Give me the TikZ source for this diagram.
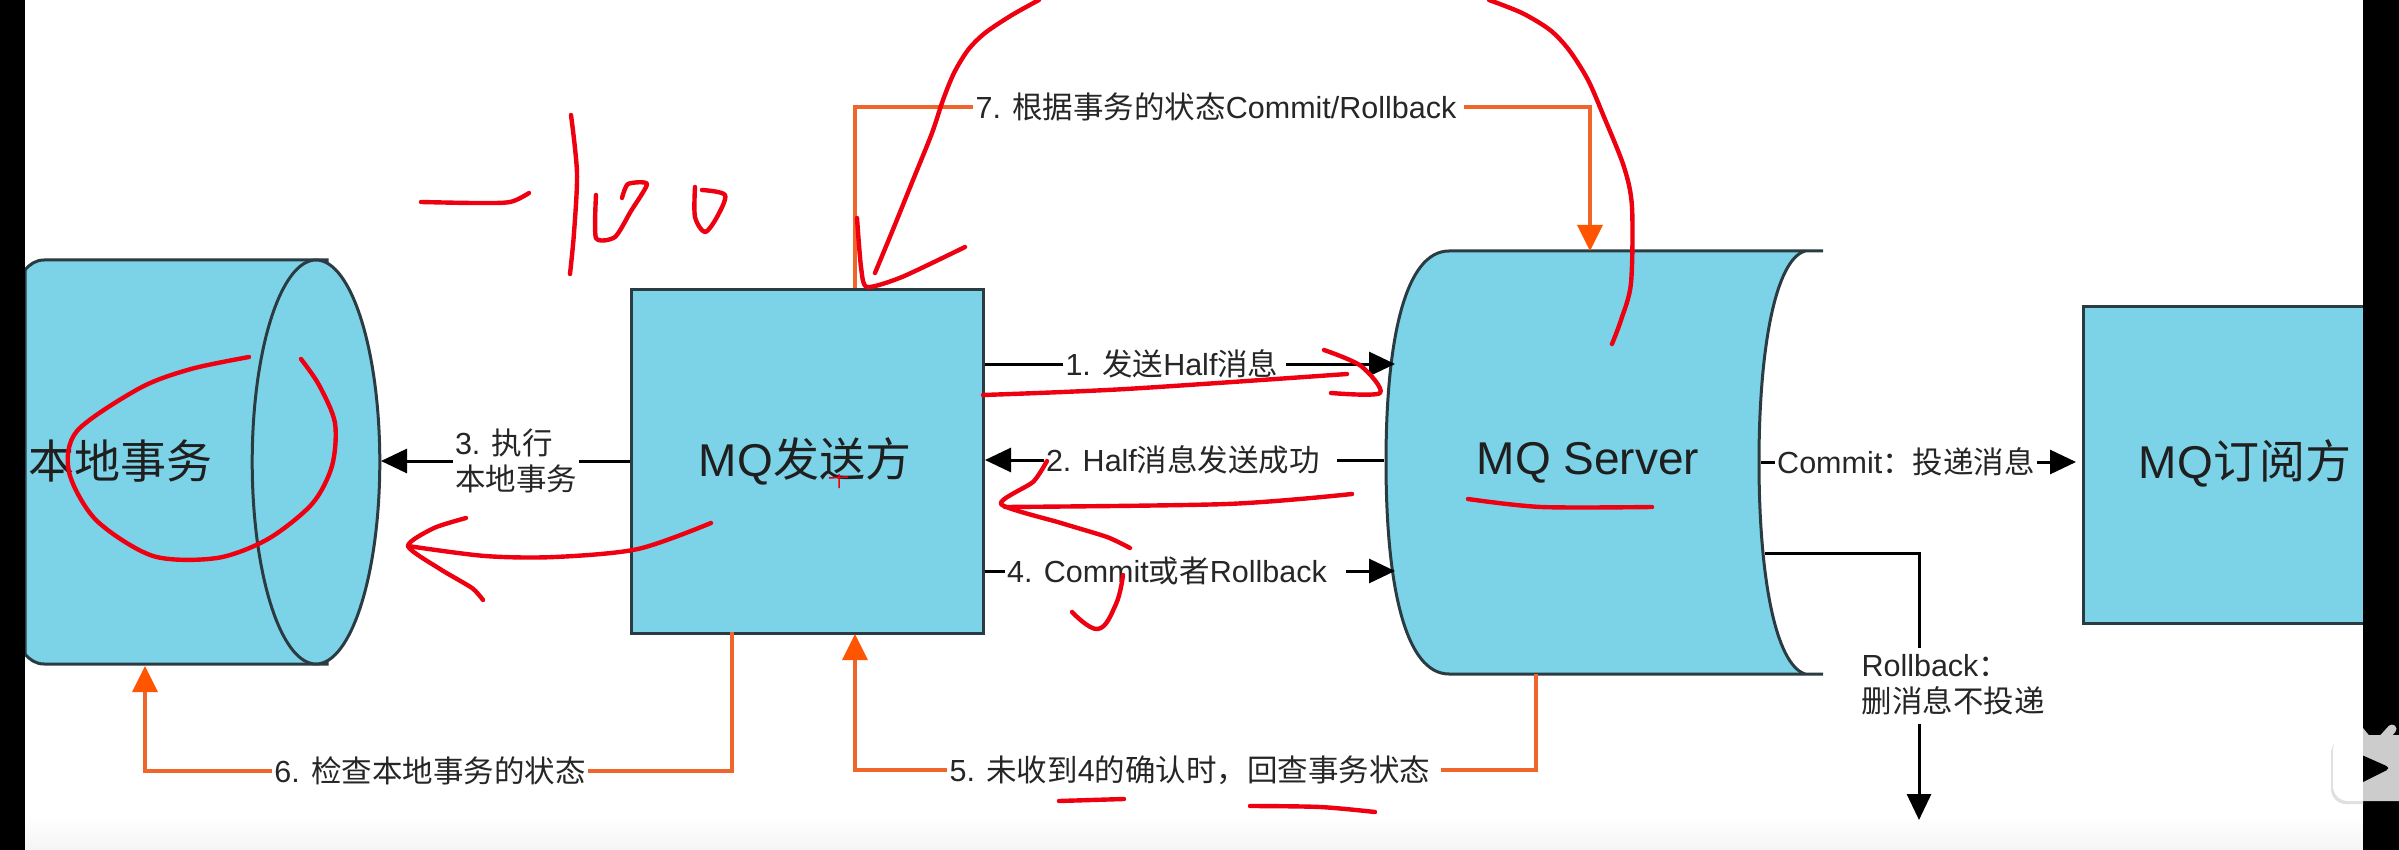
\documentclass[tikz,border=0pt]{standalone}
\usepackage{fontspec}
\setmainfont{Liberation Sans}
\newfontfamily\cjk{Noto Sans CJK SC}
\newcommand{\cn}[1]{{\cjk #1}}
\usetikzlibrary{arrows.meta,calc}
\definecolor{boxfill}{HTML}{7CD3E8}
\definecolor{edgeink}{HTML}{2B3B42}
\definecolor{orangeline}{HTML}{F0652A}
\definecolor{orangetip}{HTML}{FF5500}
\definecolor{penred}{HTML}{EE0010}
\definecolor{labink}{HTML}{262626}
\tikzset{
  x=1pt,y=-1pt,
  shapeline/.style={draw=edgeink,line width=3pt,fill=boxfill},
  boxnode/.style={shapeline,rectangle,inner sep=0pt,anchor=north west},
  bigtext/.style={font=\fontsize{46}{52}\selectfont,text=black!88,inner sep=0pt},
  lab/.style={font=\fontsize{30.5}{36}\selectfont,text=labink,fill=white,inner sep=2pt,align=left},
  blk/.style={draw=black,line width=3pt},
  blkarrow/.style={blk,-{Triangle[length=26pt,width=24pt]}},
  org/.style={draw=orangeline,line width=3.5pt,line join=miter},
  orgarrow/.style={org,-{Triangle[length=26pt,width=25pt,color=orangetip]}},
  pen/.style={draw=penred,line width=4.4pt,line cap=round,line join=round},
}
\begin{document}
\begin{tikzpicture}
\useasboundingbox (0,0) rectangle (2399,850);
\fill[white] (0,0) rectangle (2399,850);
\shade[top color=white,bottom color=black!4] (0,815) rectangle (2399,850);

% local transaction cylinder
\path[shapeline] (25,270) .. controls (30,264) and (36,260) .. (44,260) -- (327,260)
  -- (327,664) -- (44,664) .. controls (36,664) and (30,660) .. (25,654) -- cycle;
\path[shapeline] (316,462) ellipse [x radius=63.8,y radius=202];
\node[bigtext] (local) at (120,461) {\cn{本地事务}};

% sender
\node[boxnode,minimum width=352pt,minimum height=344pt] (sender) at (630,288) {};
\node[bigtext] (sendertxt) at (805,461) {MQ\cn{发送方}};

% server
\path[fill=boxfill] (1449,251) .. controls (1405,251) and (1386,340) .. (1386,462)
  .. controls (1386,585) and (1405,674) .. (1449,674) -- (1805,674)
  .. controls (1775,664) and (1759,575) .. (1759,462)
  .. controls (1759,350) and (1775,260) .. (1805,251) -- cycle;
\draw[draw=edgeink,line width=3pt] (1823,251) -- (1449,251) .. controls (1405,251) and (1386,340) .. (1386,462)
  .. controls (1386,585) and (1405,674) .. (1449,674) -- (1823,674);
\draw[draw=edgeink,line width=3pt] (1805,674) .. controls (1775,664) and (1759,575) .. (1759,462)
  .. controls (1759,350) and (1775,260) .. (1805,251);
\node[bigtext] (server) at (1588,463) {MQ Server};

% subscriber
\node[boxnode,minimum width=300pt,minimum height=317pt] (sub) at (2082,305) {};
\node[bigtext] (subtxt) at (2245,463) {MQ\cn{订阅方}};

% anchor points on the server
\coordinate (srvA) at (1395,364);
\coordinate (srvB) at (1384,460);
\coordinate (srvC) at (1395,571);
\coordinate (srvTop) at (1590,251);
\coordinate (srvBot) at (1536,674);
\coordinate (srvCommit) at (1761,462);
\coordinate (srvRoll) at (1765,553);
\coordinate (rollEnd) at (1919,820);
\coordinate (localEdge) at (381,461);
\coordinate (localBot) at (145,666);

% black labels and connectors
\node[lab] (l1) at (1172,364) {1. \cn{发送}Half\cn{消息}};
\node[lab] (l2) at (1183,460) {2. Half\cn{消息发送成功}};
\node[lab] (l3) at (516,461) {3. \cn{执行}\\\cn{本地事务}};
\node[lab] (l4) at (1167,571) {4. Commit\cn{或者}Rollback};
\node[lab] (lc) at (1906,462) {Commit\cn{：投递消息}};
\node[lab] (lr) at (1953,685) {Rollback\cn{：}\\\cn{删消息不投递}};

\draw[blk] (sender.east |- l1) -- (l1);
\draw[blkarrow] ($(l1.east)+(5,0)$) -- (srvA);
\draw[blk] (srvB) -- ($(l2.east)+(15,0)$);
\draw[blkarrow] (l2) -- (sender.east |- l2);
\draw[blk] (sender.west |- l3) -- (l3);
\draw[blkarrow] (l3) -- (localEdge);
\draw[blk] (sender.east |- l4) -- (l4);
\draw[blkarrow] ($(l4.east)+(17,0)$) -- (srvC);
\draw[blk] (srvCommit) -- (lc);
\draw[blkarrow,shorten >=6pt] (lc) -- (sub.west |- lc);
\draw[blk] (srvRoll) -| ($(lr.north -| rollEnd)+(0,-5)$);
\draw[blkarrow] ($(lr.south -| rollEnd)+(0,6)$) -- (rollEnd);

% orange labels and connectors
\node[lab] (l5) at (1190,770) {5. \cn{未收到}4\cn{的确认时，回查事务状态}};
\node[lab] (l6) at (430,771) {6. \cn{检查本地事务的状态}};
\node[lab] (l7) at (1216,107) {\raisebox{-4pt}{7. \cn{根据事务的状态}Commit/Rollback}};
\coordinate (senderBotA) at (732,632);
\coordinate (senderBotB) at (855,634);
\coordinate (senderTop) at (855,288);
\draw[org] (srvBot) |- ($(l5.east)+(8,0)$);
\draw[orgarrow] (l5) -| (senderBotB);
\draw[org] (senderBotA) |- (l6);
\draw[orgarrow] (l6) -| (localBot);
\draw[org] (senderTop) |- (l7);
\draw[orgarrow] ($(l7.east)+(5,0)$) -| (srvTop);

% handwriting
\draw[pen] plot[smooth] coordinates {(421,202) (475,203) (510,202) (529,193)};
\draw[pen] plot[smooth] coordinates {(571,115) (577,173) (574,233) (570,274)};
\draw[pen] plot[smooth,tension=.4] coordinates {(596,195) (596,238) (615,237) (631,211) (647,184) (628,184) (622,198)};
\draw[pen] plot[smooth,tension=.5] coordinates {(695,187) (695,217) (705,232) (717,217) (725,195) (702,190)};
\draw[pen] plot[smooth] coordinates {(249,357) (191,369) (140,388) (77,431) (69,472) (96,520) (153,556) (217,558) (268,539) (312,504) (332,466) (335,423) (319,385) (301,359)};
\draw[pen] plot[smooth] coordinates {(711,523) (638,549) (555,557) (485,556) (408,546)};
\draw[pen] plot[smooth,tension=.4] coordinates {(466,518) (434,528) (408,546) (440,569) (472,588) (483,600)};
\draw[draw=penred,line width=1.5pt] (839,474) -- (839,488) (829,478) -- (848,477);
\draw[pen] plot[smooth] coordinates {(1039,0) (1012,15) (985,33) (968,50) (954,73) (943,100) (932,133) (913,180) (894,227) (875,273)};
\draw[pen] plot[smooth,tension=.4] coordinates {(857,218) (861,267) (867,287) (902,277) (965,247)};
\draw[pen] plot[smooth] coordinates {(1489,0) (1522,13) (1550,30) (1569,50) (1588,80) (1604,117) (1624,167) (1632,207) (1631,283) (1621,320) (1612,344)};
\draw[pen] plot[smooth] coordinates {(983,395) (1126,389) (1347,374)};
\draw[pen] plot[smooth,tension=.5] coordinates {(1324,350) (1361,366) (1380,393) (1331,393)};
\draw[pen] plot[smooth] coordinates {(1352,494) (1227,504) (1005,507)};
\draw[pen] plot[smooth,tension=.4] coordinates {(1047,461) (1033,482) (1001,504) (1061,523) (1107,537) (1130,548)};
\draw[pen] plot[smooth,tension=.7] coordinates {(1123,575) (1116,604) (1098,629) (1072,612)};
\draw[pen] plot[smooth] coordinates {(1468,499) (1541,507) (1652,507)};
\draw[pen] (1059,801) -- (1124,799);
\draw[pen] plot[smooth] coordinates {(1250,806) (1320,807) (1375,812)};

% letterbox bars and corner badge
\fill[black] (0,0) rectangle (25,850);
\fill[black] (2363,0) rectangle (2399,850);
\begin{scope}
\clip (0,0) rectangle (2363,850);
\fill[black!12,rounded corners=15pt] (2331,738) rectangle (2420,804);
\fill[white,rounded corners=15pt] (2333,735) rectangle (2420,801);
\draw[white,line width=9pt,line cap=round] (2358,729) -- (2367,740);
\end{scope}
\begin{scope}
\clip (2363,0) rectangle (2399,850);
\fill[black!20,rounded corners=15pt] (2333,735) rectangle (2420,801);
\draw[black!20,line width=9pt,line cap=round] (2358,729) -- (2367,740);
\draw[black!20,line width=9pt,line cap=round] (2392,729) -- (2382,740);
\fill[black,rounded corners=5pt] (2355,752) -- (2391,768) -- (2355,786) -- cycle;
\end{scope}
\end{tikzpicture}
\end{document}
